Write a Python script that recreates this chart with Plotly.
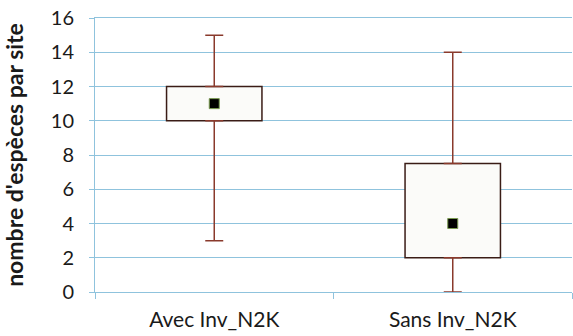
import plotly.graph_objects as go

categories = ["Avec Inv_N2K", "Sans Inv_N2K"]
q1 = [10, 2]
q3 = [12, 7.5]
median = [11, 4]
whisker_low = [3, 0]
whisker_high = [15, 14]
y_tickvals = [0, 2, 4, 6, 8, 10, 12, 14, 16]

brown = "#8a3a2c"
grid = "#8fc3dd"
font_family = "Lato, Carlito, 'Open Sans', sans-serif"

fig = go.Figure()

# upper whiskers
fig.add_trace(go.Scatter(
    x=categories, y=q3, mode="markers",
    marker=dict(size=1, opacity=0),
    error_y=dict(type="data", symmetric=False,
                 array=[h - b for h, b in zip(whisker_high, q3)],
                 arrayminus=[0, 0], color=brown, thickness=1.5, width=9),
    hoverinfo="skip", showlegend=False,
))
# lower whiskers
fig.add_trace(go.Scatter(
    x=categories, y=q1, mode="markers",
    marker=dict(size=1, opacity=0),
    error_y=dict(type="data", symmetric=False,
                 array=[0, 0],
                 arrayminus=[b - l for b, l in zip(q1, whisker_low)],
                 color=brown, thickness=1.5, width=9),
    hoverinfo="skip", showlegend=False,
))
# boxes
fig.add_trace(go.Bar(
    x=categories, y=[a - b for a, b in zip(q3, q1)], base=q1,
    width=0.4,
    marker=dict(color="#fbfbf9", line=dict(color="#3a1c16", width=1.5)),
    showlegend=False,
))
# median markers
fig.add_trace(go.Scatter(
    x=categories, y=median, mode="markers",
    marker=dict(symbol="square", size=10, color="#000000",
                line=dict(color="#7a9a50", width=1)),
    showlegend=False,
))

fig.update_layout(
    width=573, height=336,
    margin=dict(l=95, r=1, t=18, b=44),
    paper_bgcolor="white", plot_bgcolor="white",
    font=dict(family=font_family, color="#1a1a1a"),
    barmode="overlay",
    xaxis=dict(
        type="category", tickson="boundaries", automargin=False,
        showline=True, mirror=True, linecolor=grid, linewidth=1,
        ticks="outside", tickcolor=grid, ticklen=6,
        showgrid=False, tickfont=dict(size=21), ticklabelstandoff=9,
    ),
    yaxis=dict(
        range=[0, 16], tickvals=y_tickvals, automargin=False,
        ticklabeloverflow="allow",
        showline=True, linecolor=grid, linewidth=1,
        showgrid=True, gridcolor=grid, gridwidth=1,
        ticks="outside", tickcolor=grid, ticklen=5,
        tickfont=dict(size=20), ticklabelstandoff=11,
        zeroline=False,
        title=dict(text="<b>nombre d'espèces par site</b>",
                   font=dict(size=23), standoff=30),
    ),
)

fig.write_html("out.html", config={"displayModeBar": False},
               post_script="document.body.style.margin='0';")
